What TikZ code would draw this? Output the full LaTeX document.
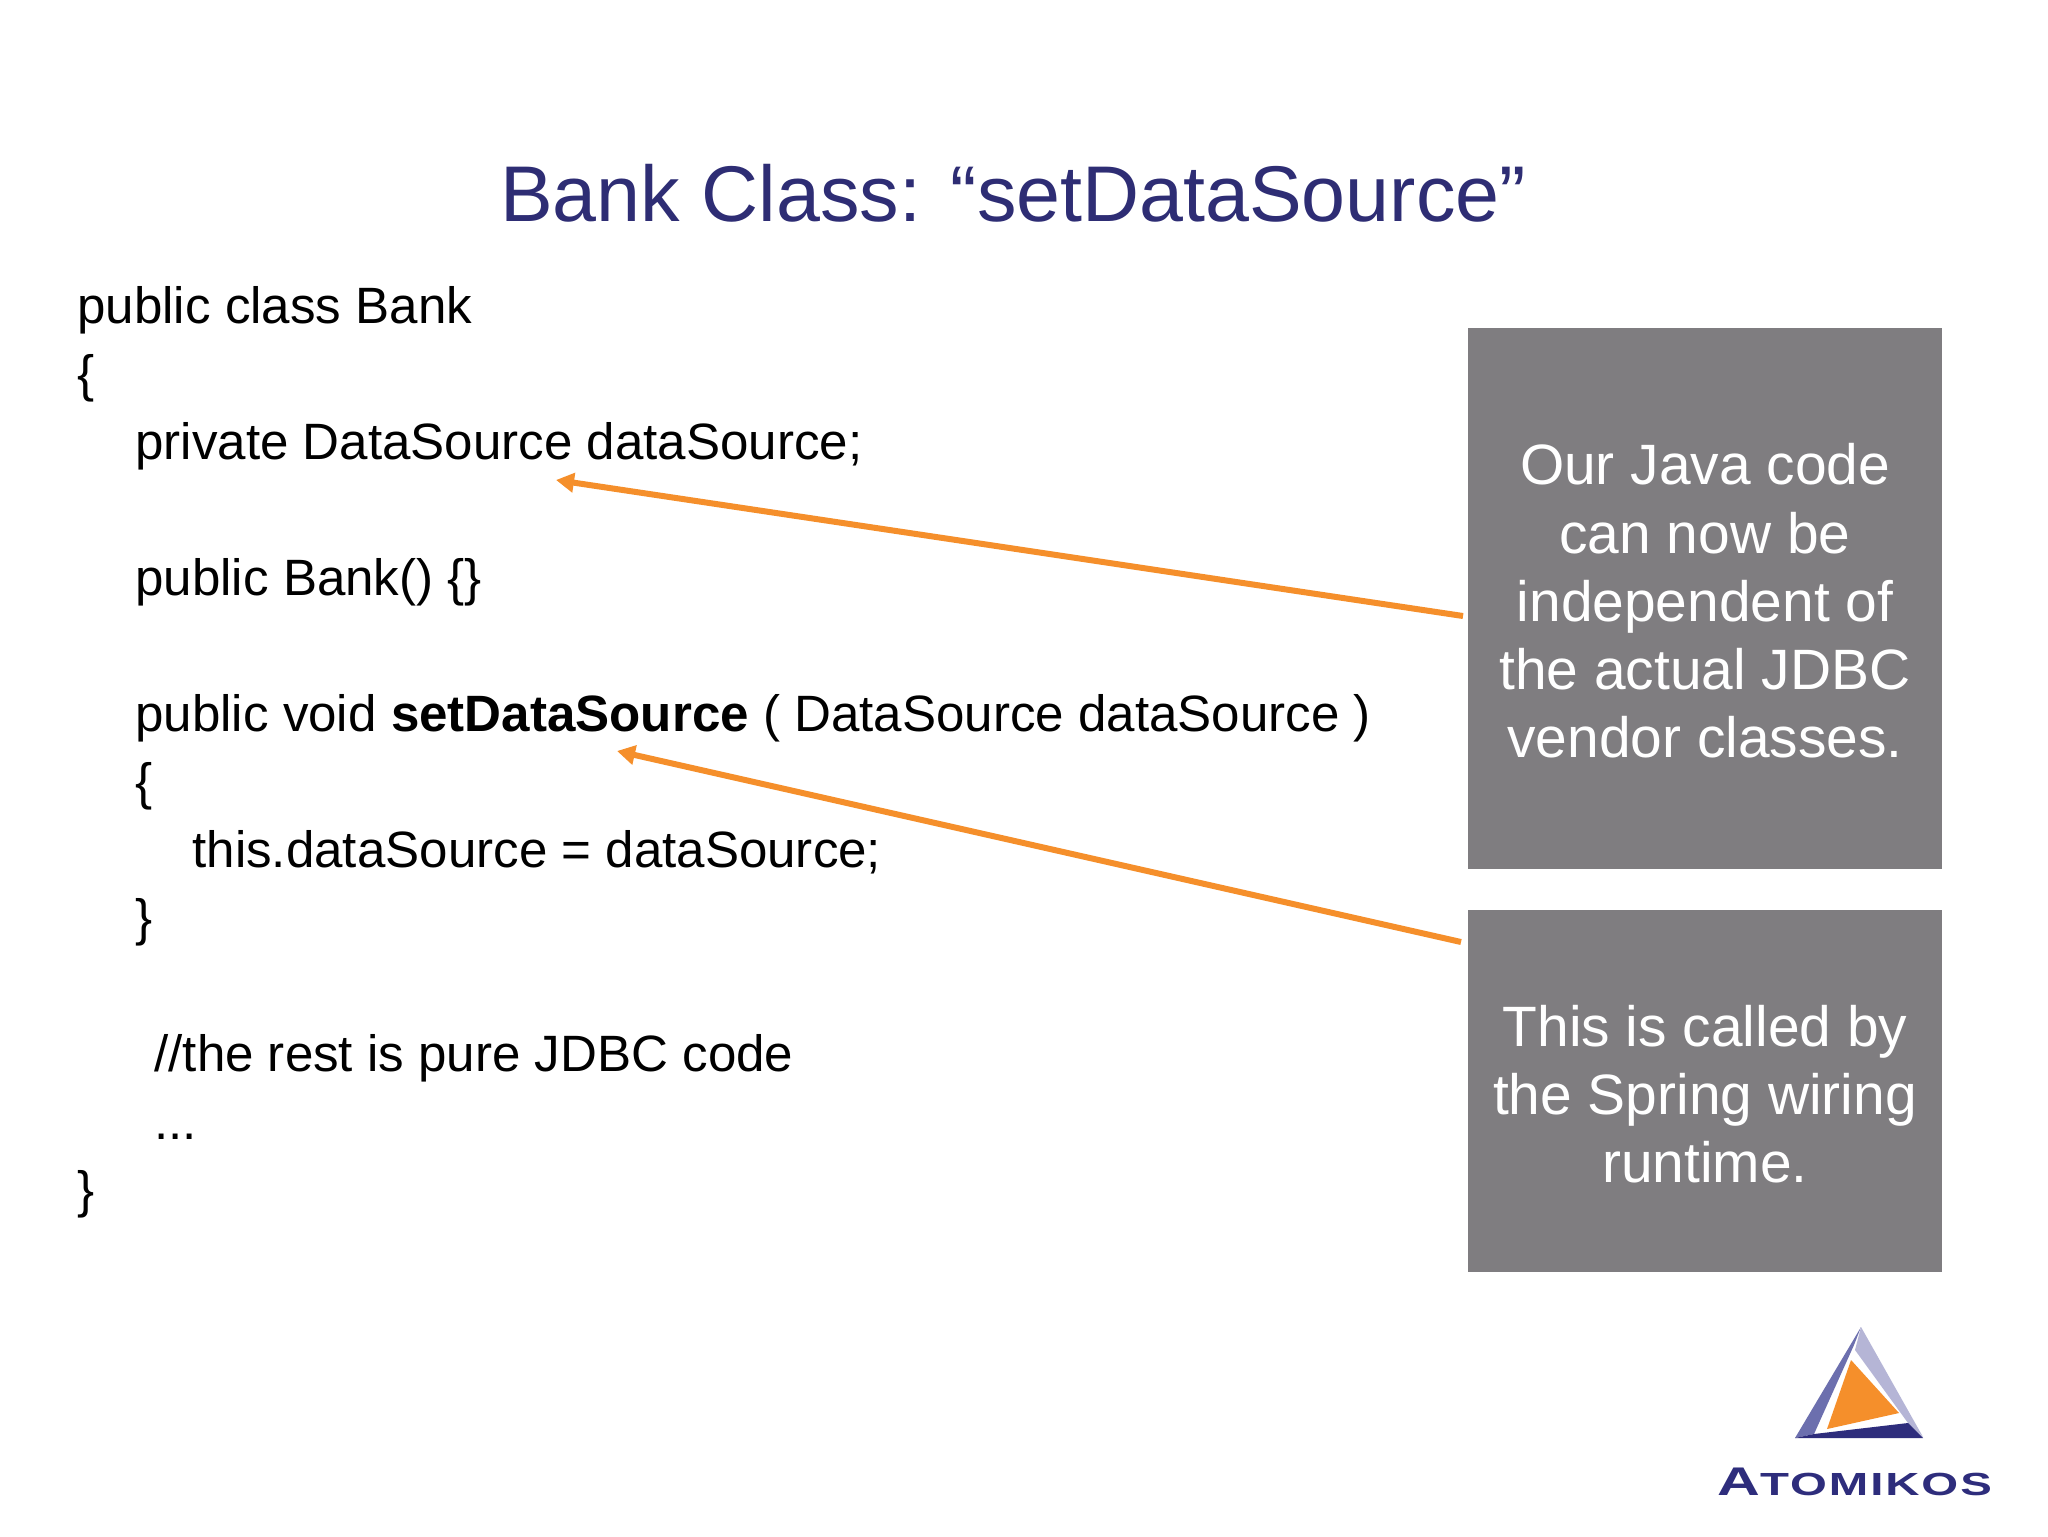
\documentclass[tikz,border=0pt]{standalone}
\usepackage{fontspec}
\setmainfont{Liberation Sans}
\newfontfamily\logofont[FakeStretch=1.48,LetterSpace=6]{Liberation Sans}
\definecolor{titlenavy}{HTML}{2E2D74}
\definecolor{boxgrey}{HTML}{7F7D80}
\definecolor{arroworange}{HTML}{F58F2B}
\definecolor{logonavy}{HTML}{2E2D7C}
\definecolor{logomid}{HTML}{6C6FAE}
\definecolor{logolight}{HTML}{B5B5D6}
\usetikzlibrary{arrows.meta}
\tikzset{
  titletext/.style={anchor=base,text=titlenavy,inner sep=0pt,font=\fontsize{39.5}{48}\selectfont},
  codeline/.style={anchor=base west,text=black,inner sep=0pt,font=\fontsize{25.55}{34}\selectfont},
  greybox/.style={fill=boxgrey,draw=none,inner sep=0pt,outer sep=0pt},
  boxtext/.style={anchor=center,text=white,inner sep=0pt,align=center,font=\fontsize{28.45}{34.1}\selectfont},
  callout/.style={draw=arroworange,line width=3pt,-{Triangle[length=9pt,width=9.5pt]},shorten >=0pt},
}
\begin{document}
\begin{tikzpicture}[x=0.5pt,y=-0.5pt]
\useasboundingbox[fill=white] (0,0) rectangle (2048,1536);
\node[titletext] (title) at (1013,221) {Bank Class: “setDataSource”};
\node[codeline] (c1) at (77,323) {public class Bank};
\node[codeline] (c2) at (77,391) {\{};
\node[codeline] (c3) at (135,459) {private DataSource dataSource;};
\node[codeline] (c4) at (135,595) {public Bank() \{\}};
\node[codeline] (c5) at (135,731) {public void \textbf{setDataSource} ( DataSource dataSource )};
\node[codeline] (c6) at (135,799) {\{};
\node[codeline] (c7) at (192,867) {this.dataSource = dataSource;};
\node[codeline] (c8) at (135,935) {\}};
\node[codeline] (c9) at (154,1071) {//the rest is pure JDBC code};
\node[codeline] (c10) at (154,1139) {...};
\node[codeline] (c11) at (77,1207) {\}};
\path[greybox] (1468,328) rectangle (1941.5,869);
\path[greybox] (1468,910) rectangle (1941.5,1271.5);
\node[boxtext] (t1) at (1705,601) {Our Java code\\can now be\\independent of\\the actual JDBC\\vendor classes.};
\node[boxtext] (t2) at (1705,1094) {This is called by\\the Spring wiring\\runtime.};
\coordinate (a1tail) at (1463,616);
\coordinate (a1tip) at (556,480);
\coordinate (a2tail) at (1461,942);
\coordinate (a2tip) at (617,751);
\draw[callout] (a1tail) -- (a1tip);
\draw[callout] (a2tail) -- (a2tip);
% logo
\fill[logomid] (1861,1327) -- (1795,1438) -- (1814,1434) -- (1854,1345) -- cycle;
\fill[logolight] (1861,1327) -- (1923,1437) -- (1908,1423) -- (1855,1350) -- cycle;
\fill[logonavy] (1795,1438) -- (1923,1438) -- (1908,1423) -- (1814,1434) -- cycle;
\fill[arroworange] (1851,1360) -- (1899,1413) -- (1827,1429) -- cycle;
\node[anchor=base west,inner sep=0pt,text=logonavy,font=\logofont\bfseries] (logo) at (1717,1495) {\fontsize{20}{24}\selectfont A\fontsize{16}{24}\selectfont TOMIKOS};
\end{tikzpicture}
\end{document}
